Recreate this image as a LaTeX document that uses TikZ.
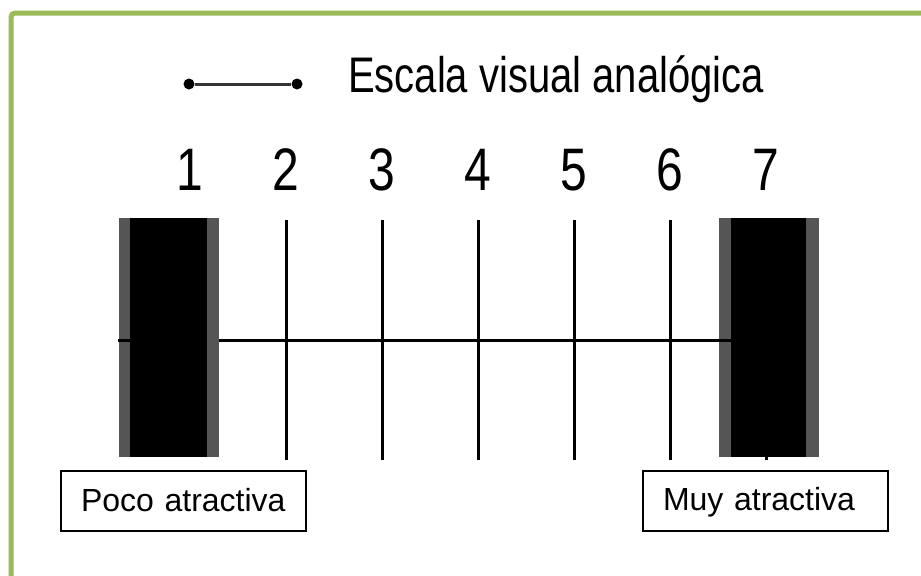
\documentclass[tikz,border=0pt]{standalone}
\usepackage{fontspec}
\setmainfont{Liberation Sans}
\newfontfamily\condfont[FakeStretch=0.8]{Liberation Sans}
\usetikzlibrary{positioning}
\definecolor{framegreen}{HTML}{9BBB59}
\definecolor{bargray}{HTML}{555555}
\newdimen\pxu \pxu=0.75pt
\tikzset{
    x=0.75pt, y=-0.75pt, % one unit is one pixel, y goes down
    tick/.style={line width=3\pxu}, % lines of the scale
    num/.style={font=\condfont\fontsize{45}{48}\selectfont, anchor=base, inner sep=0pt}, % the numbers 1 to 7
    heading/.style={font=\condfont\fontsize{37.5}{40}\selectfont, anchor=base, inner sep=0pt},
    dot/.style={circle, fill=black, minimum size=11\pxu, inner sep=0pt},
    endbar/.style={fill=bargray, minimum width=100\pxu, minimum height=239\pxu, inner sep=0pt}, % the two end blocks
    answer/.style={draw, line width=2\pxu, text width=205\pxu, inner xsep=20\pxu, minimum height=60\pxu, align=left,
        font=\fontsize{24}{28}\selectfont, execute at begin node={\rule[-5\pxu]{0pt}{30\pxu}}},
}

\begin{document}
\begin{tikzpicture}
    \useasboundingbox[fill=white] (0,0) rectangle (921,575);
    \draw[framegreen, line width=5\pxu, rounded corners=4\pxu] (11,590) -- (11,13) -- (935,13);
    % heading
    \node[dot] (d1) at (189,84) {};
    \node[dot] (d2) at (297,84) {};
    \draw[line width=3\pxu, black!80] (d1) -- (d2);
    \node[heading] (title) at (556,92) {Escala visual analógica};
    % numbers and ticks
    \foreach \i in {1,...,7}
        \node[num] (n\i) at ({190+96*(\i-1)},190) {\i};
    \coordinate (ttop) at (0,220);
    \coordinate (tbot) at (0,460);
    \coordinate (mid) at (0,340);
    \foreach \i in {2,...,7}
        \draw[tick] (n\i |- ttop) -- (n\i |- tbot);
    % end blocks
    \node[endbar] (lo) at (168.5,337.5) {};
    \node[endbar] (hi) at (768.5,337.5) {};
    \draw[tick] (lo.west |- mid) -- ++(12,0);
    \draw[tick] (lo.east |- mid) -- (hi.west |- mid) -- ++(13,0);
    \fill ([xshift=12\pxu]lo.north west) rectangle ([xshift=-12\pxu]lo.south east);
    \fill ([xshift=13\pxu]hi.north west) rectangle ([xshift=-13\pxu]hi.south east);
    % answers
    \node[answer] (poco) at (183.5,501) {Poco atractiva};
    \node[answer] (muy) at (765.5,501) {Muy atractiva};
\end{tikzpicture}
\end{document}
